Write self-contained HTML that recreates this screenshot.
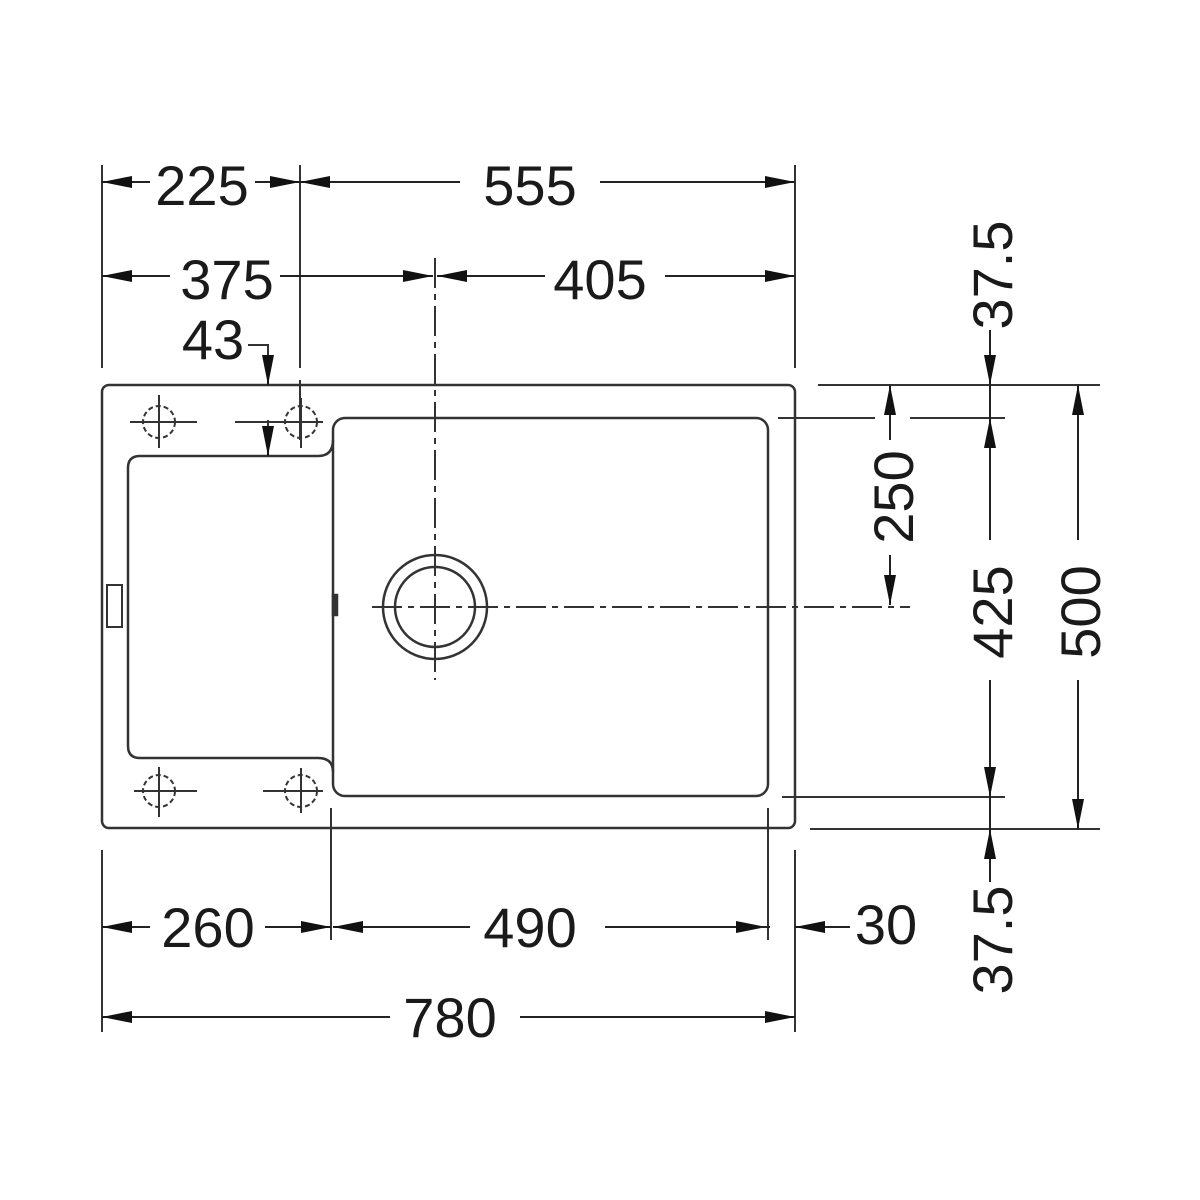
<!DOCTYPE html>
<html><head><meta charset="utf-8"><style>html,body{margin:0;padding:0;background:#fff}svg{display:block}text{font-family:"Liberation Sans",Arial,sans-serif;font-size:56px;fill:#1a1a1a}</style></head>
<body>
<svg width="1200" height="1200" viewBox="0 0 1200 1200" xmlns="http://www.w3.org/2000/svg">
<defs>
<marker id="a" viewBox="0 0 30 12" refX="30" refY="6" markerWidth="30" markerHeight="12" markerUnits="userSpaceOnUse" orient="auto-start-reverse"><path d="M0,0 L30,6 L0,12 Z" fill="#111"/></marker>
</defs>
<g stroke="#333" stroke-width="2.5" fill="none">
<!-- outer sink -->
<rect x="102" y="385" width="693" height="443" rx="7"/>
<!-- bowl -->
<rect x="333" y="418" width="435" height="378" rx="12"/>
<!-- drainer -->
<path d="M333,440 Q333,456 318,456 L140,456 Q128,456 128,468 L128,746 Q128,758 140,758 L318,758 Q333,758 333,772"/>
<rect x="107" y="585" width="15" height="42" stroke-width="2"/>
<rect x="333" y="595" width="4" height="20" fill="#333"/>
<!-- drain -->
<circle cx="435" cy="607" r="52"/>
<circle cx="435" cy="607" r="40"/>
</g>
<g stroke="#333" stroke-width="2" fill="none">
<!-- tap holes -->
<circle cx="159" cy="422" r="16" stroke-dasharray="5,3"/>
<circle cx="301" cy="422" r="16" stroke-dasharray="5,3"/>
<circle cx="159" cy="791" r="16" stroke-dasharray="5,3"/>
<circle cx="301" cy="791" r="16" stroke-dasharray="5,3"/>
<path d="M130,422 H197 M159,395 V448 M235,422 H323 M301,398 V448 M134,791 H197 M159,767 V817 M263,791 H323 M301,768 V813"/>
<!-- centerlines -->
<path d="M435,258 V680" stroke-dasharray="30,6,6,6"/>
<path d="M372,607 H910" stroke-dasharray="30,6,6,6"/>
<path d="M300,165 V368 M300,380 V440" />
<!-- extension lines -->
<path d="M102,165 V368 M795,165 V368 M102,850 V1032 M795,850 V1032 M331,808 V940 M768,808 V940"/>
<path d="M818,385 H1100 M778,418 H875 M910,418 H1005 M782,797 H1005 M810,829 H1100"/>
<!-- 43 leader -->
<path d="M248,345 H268 V383 M268,420 V450"/>
</g>
<g stroke="#222" stroke-width="2" fill="none">
<!-- row 1 -->
<line x1="150" y1="182" x2="102" y2="182" marker-end="url(#a)"/>
<line x1="255" y1="182" x2="300" y2="182" marker-end="url(#a)"/>
<line x1="460" y1="182" x2="300" y2="182" marker-end="url(#a)"/>
<line x1="600" y1="182" x2="795" y2="182" marker-end="url(#a)"/>
<!-- row 2 -->
<line x1="170" y1="276" x2="102" y2="276" marker-end="url(#a)"/>
<line x1="280" y1="276" x2="433" y2="276" marker-end="url(#a)"/>
<line x1="545" y1="276" x2="437" y2="276" marker-end="url(#a)"/>
<line x1="665" y1="276" x2="795" y2="276" marker-end="url(#a)"/>
<!-- 43 arrows -->
<line x1="268" y1="355" x2="268" y2="385" marker-end="url(#a)"/>
<line x1="268" y1="430" x2="268" y2="456" marker-end="url(#a)"/>
<!-- bottom row -->
<line x1="150" y1="927" x2="102" y2="927" marker-end="url(#a)"/>
<line x1="265" y1="927" x2="331" y2="927" marker-end="url(#a)"/>
<line x1="470" y1="927" x2="333" y2="927" marker-end="url(#a)"/>
<line x1="605" y1="927" x2="766" y2="927" marker-end="url(#a)"/>
<line x1="850" y1="927" x2="795" y2="927" marker-end="url(#a)"/>
<line x1="760" y1="927" x2="770" y2="927"/>
<line x1="390" y1="1017" x2="102" y2="1017" marker-end="url(#a)"/>
<line x1="520" y1="1017" x2="795" y2="1017" marker-end="url(#a)"/>
<!-- right verticals -->
<line x1="890" y1="440" x2="890" y2="385" marker-end="url(#a)"/>
<line x1="890" y1="555" x2="890" y2="605" marker-end="url(#a)"/>
<line x1="990" y1="330" x2="990" y2="385" marker-end="url(#a)"/>
<line x1="990" y1="385" x2="990" y2="418"/>
<line x1="990" y1="540" x2="990" y2="418" marker-end="url(#a)"/>
<line x1="990" y1="680" x2="990" y2="797" marker-end="url(#a)"/>
<line x1="990" y1="797" x2="990" y2="829"/>
<line x1="990" y1="882" x2="990" y2="829" marker-end="url(#a)"/>
<line x1="1078" y1="540" x2="1078" y2="385" marker-end="url(#a)"/>
<line x1="1078" y1="680" x2="1078" y2="829" marker-end="url(#a)"/>
</g>
<g text-anchor="middle">
<text x="202" y="205">225</text>
<text x="530" y="205">555</text>
<text x="227" y="299">375</text>
<text x="600" y="299">405</text>
<text x="213" y="359">43</text>
<text x="208" y="947">260</text>
<text x="530" y="947">490</text>
<text x="886" y="944">30</text>
<text x="450" y="1037">780</text>
<text transform="translate(913,497) rotate(-90)">250</text>
<text transform="translate(1012,612) rotate(-90)">425</text>
<text transform="translate(1100,612) rotate(-90)">500</text>
<text transform="translate(1012,275) rotate(-90)">37.5</text>
<text transform="translate(1012,940) rotate(-90)">37.5</text>
</g>
</svg>
</body></html>
